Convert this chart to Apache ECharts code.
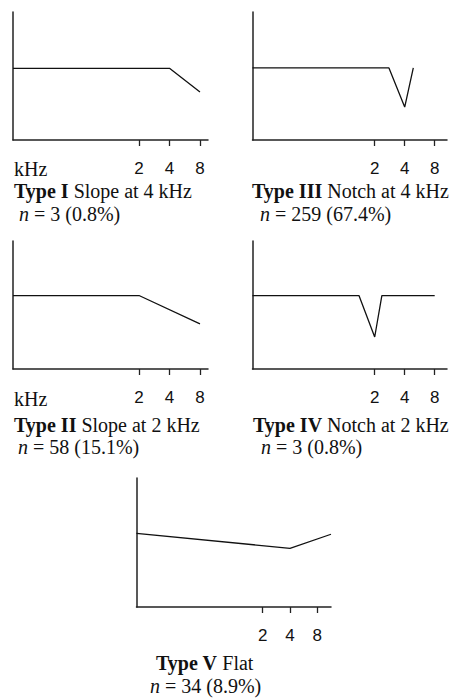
<!DOCTYPE html>
<html>
<head>
<meta charset="utf-8">
<script src="https://cdn.jsdelivr.net/npm/echarts@6/dist/echarts.min.js"></script>
<style>
html,body{margin:0;padding:0;background:#fff;}
#c{width:453px;height:699px;}
</style>
</head>
<body>
<div id="c"></div>
<script>
// Tick labels (kHz)
const tickFreqs = [2, 4, 8];
const tickLabels = ['2', '4', '8'];

// Panel texts
const typeNames = ['Type I', 'Type III', 'Type II', 'Type IV', 'Type V'];
const typeDescs = [' Slope at 4 kHz', ' Notch at 4 kHz', ' Slope at 2 kHz', ' Notch at 2 kHz', ' Flat'];
const nCounts = ['3 (0.8%)', '259 (67.4%)', '58 (15.1%)', '3 (0.8%)', '34 (8.9%)'];

// Frequency axis extents per panel (kHz)
const axisMinFreq = [0.114, 0.1188, 0.114, 0.1188, 0.0812];
const axisMaxFreq = [9.6, 10.63, 9.6, 10.63, 11.33];

// Series: frequency (kHz) and relative level
const freqTypeI = [0.114, 4, 8];
const levelTypeI = [56, 56, 37.5];
const freqTypeIII = [0.1188, 2.78, 4, 4.88];
const levelTypeIII = [56.3, 56.3, 25.7, 56.3];
const freqTypeII = [0.114, 2, 8];
const levelTypeII = [57.4, 57.4, 35.2];
const freqTypeIV = [0.1188, 1.39, 2, 2.36, 8];
const levelTypeIV = [57.4, 57.4, 25, 57.4, 57.4];
const freqTypeV = [0.0812, 4, 11.33];
const levelTypeV = [57.1, 45.5, 56.4];

const seriesFreqs = [freqTypeI, freqTypeIII, freqTypeII, freqTypeIV, freqTypeV];
const seriesLevels = [levelTypeI, levelTypeIII, levelTypeII, levelTypeIV, levelTypeV];

// Layout
const grids = [
  {left: 13, top: 12, width: 195, height: 128},
  {left: 252.5, top: 12, width: 194.5, height: 128},
  {left: 13, top: 241, width: 195, height: 128},
  {left: 252.5, top: 241, width: 194.5, height: 128},
  {left: 136.5, top: 478, width: 194.5, height: 129}
];
const titlePos = [
  {tx: 14, ty: 191, nx: 19, ny: 214, khz: [14, 169]},
  {tx: 252, ty: 191, nx: 260, ny: 214, khz: null},
  {tx: 14, ty: 425, nx: 18, ny: 447, khz: [14, 399]},
  {tx: 253, ty: 425, nx: 261, ny: 447, khz: null},
  {tx: 156, ty: 663, nx: 150, ny: 686, khz: null}
];

const serif = '"Liberation Serif", "Times New Roman", serif';
const tickLog = tickFreqs.map(f => Math.log2(f));

const xAxes = [], yAxes = [], series = [], graphics = [];
grids.forEach((g, i) => {
  xAxes.push({
    type: 'value', gridIndex: i,
    min: Math.log2(axisMinFreq[i]), max: Math.log2(axisMaxFreq[i]),
    axisLine: {show: true, onZero: false, lineStyle: {color: '#222', width: 1.5}},
    axisTick: {show: true, customValues: tickLog, length: 6, lineStyle: {color: '#222', width: 1.3}},
    axisLabel: {show: true, customValues: tickLog, margin: 20, fontSize: 17, color: '#111',
      fontFamily: '"Liberation Sans", Arial, sans-serif',
      formatter: v => { const k = tickLog.findIndex(t => Math.abs(t - v) < 1e-6); return k >= 0 ? tickLabels[k] : ''; }},
    splitLine: {show: false}
  });
  yAxes.push({
    type: 'value', gridIndex: i, min: 0, max: 100,
    axisLine: {show: true, onZero: false, lineStyle: {color: '#222', width: 1.5}},
    axisTick: {show: false}, axisLabel: {show: false}, splitLine: {show: false}
  });
  series.push({
    type: 'line', xAxisIndex: i, yAxisIndex: i, symbol: 'none', silent: true,
    lineStyle: {color: '#111', width: 1.3},
    data: seriesFreqs[i].map((f, k) => [Math.log2(f), seriesLevels[i][k]])
  });
  const p = titlePos[i];
  graphics.push({
    type: 'text', x: p.tx, y: p.ty,
    style: {
      text: '{b|' + typeNames[i] + '}{r|' + typeDescs[i] + '}',
      align: 'left', verticalAlign: 'middle', fill: '#111',
      rich: {
        b: {fontFamily: serif, fontSize: 20, fontWeight: 'bold', fill: '#111'},
        r: {fontFamily: serif, fontSize: 20, fill: '#111'}
      }
    }
  });
  graphics.push({
    type: 'text', x: p.nx, y: p.ny,
    style: {
      text: '{i|n}{r| = ' + nCounts[i] + '}',
      align: 'left', verticalAlign: 'middle', fill: '#111',
      rich: {
        i: {fontFamily: serif, fontSize: 20, fontStyle: 'italic', fill: '#111'},
        r: {fontFamily: serif, fontSize: 20, fill: '#111'}
      }
    }
  });
  if (p.khz) {
    graphics.push({
      type: 'text', x: p.khz[0], y: p.khz[1],
      style: {text: 'kHz', font: '20px ' + serif, align: 'left', verticalAlign: 'middle', fill: '#111'}
    });
  }
});

const chart = echarts.init(document.getElementById('c'), null, {renderer: 'svg'});
chart.setOption({
  animation: false,
  backgroundColor: '#fff',
  grid: grids.map(g => Object.assign({containLabel: false}, g)),
  xAxis: xAxes,
  yAxis: yAxes,
  series: series,
  graphic: graphics
});
</script>
</body>
</html>
